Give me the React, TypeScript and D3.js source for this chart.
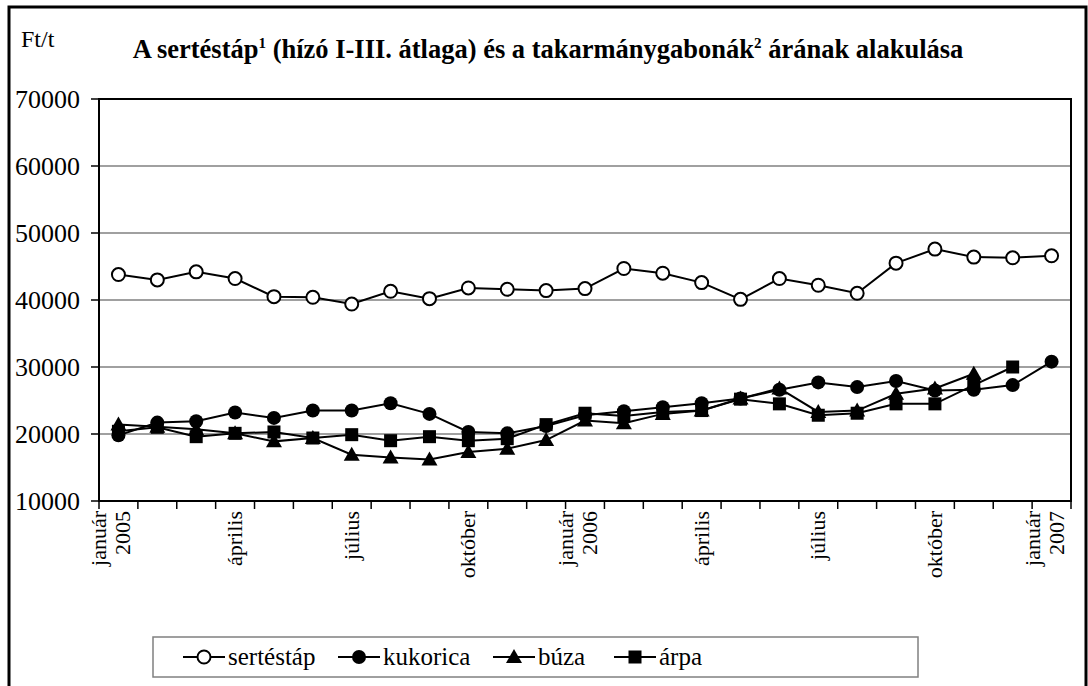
import React from "react";
import * as d3 from "d3";

const categories = [
  "2005-01","2005-02","2005-03","2005-04","2005-05","2005-06","2005-07","2005-08","2005-09","2005-10","2005-11","2005-12",
  "2006-01","2006-02","2006-03","2006-04","2006-05","2006-06","2006-07","2006-08","2006-09","2006-10","2006-11","2006-12",
  "2007-01",
];

const sertestap = [43800,43000,44200,43200,40500,40400,39400,41300,40200,41800,41600,41400,41700,44700,44000,42600,40100,43200,42200,41000,45500,47600,46400,46300,46600];
const kukorica = [19800,21700,21900,23200,22400,23500,23500,24600,23000,20300,20100,21200,22800,23400,24000,24600,25300,26600,27700,27000,27900,26500,26600,27300,30800];
const buza = [21400,21100,20700,20100,18900,19400,16900,16500,16200,17300,17800,19100,22000,21600,23000,23500,25300,26800,23300,23500,26000,26800,29000,null,null];
const arpa = [20400,21000,19600,20100,20300,19400,19900,19000,19600,19000,19300,21400,23100,22700,23300,23500,25200,24500,22800,23100,24500,24500,27300,30000,null];

const yTicks = [10000,20000,30000,40000,50000,60000,70000];
const labelIndex = [0,3,6,9,12,15,18,21,24];
const labelLines = [["január","2005"],["április"],["július"],["október"],["január","2006"],["április"],["július"],["október"],["január","2007"]];

const seriesNames = ["sertéstáp","kukorica","búza","árpa"];
const seriesData = [sertestap, kukorica, buza, arpa];
const seriesMarker = ["openCircle","circle","triangle","square"];

const FONT = "'Liberation Serif', 'DejaVu Serif', 'Times New Roman', serif";

function Marker({ type, x, y }: { type: string; x: number; y: number }) {
  if (type === "openCircle") return <circle cx={x} cy={y} r={6.5} fill="#fff" stroke="#000" strokeWidth={2} />;
  if (type === "circle") return <circle cx={x} cy={y} r={7} fill="#000" />;
  if (type === "triangle") {
    const s = 8;
    return <path d={`M${x},${y - s}L${x + s},${y + s * 0.75}L${x - s},${y + s * 0.75}Z`} fill="#000" />;
  }
  return <rect x={x - 6.5} y={y - 6.5} width={13} height={13} fill="#000" />;
}

export default function App() {
  const W = 1088, H = 686;
  const left = 99, right = 1071, top = 99, bottom = 501;
  const x = d3.scaleBand<string>().domain(categories).range([left, right]).padding(0);
  const y = d3.scaleLinear().domain([10000, 70000]).range([bottom, top]);
  const cx = (i: number) => (x(categories[i]) as number) + x.bandwidth() / 2;

  const line = d3.line<number | null>()
    .defined((d) => d !== null)
    .x((_, i) => cx(i))
    .y((d) => y(d as number));

  const boundaries = d3.range(categories.length + 1).map((i) => left + i * x.bandwidth());

  const legendItems = [
    { x0: 183, tx: 228 },
    { x0: 338, tx: 383 },
    { x0: 493, tx: 538 },
    { x0: 614, tx: 659 },
  ];

  return (
    <svg width={W} height={H} style={{ position: "absolute", left: 0, top: 0, background: "#fff", fontFamily: FONT }}>
      <rect x={0} y={0} width={W} height={H} fill="#fff" />
      <rect x={9} y={7} width={1077} height={700} fill="none" stroke="#000" strokeWidth={3} />
      {yTicks.map((t) => (
        <line key={t} x1={left} x2={right} y1={y(t)} y2={y(t)} stroke="#808080" strokeWidth={1.5} />
      ))}
      <rect x={left} y={top} width={right - left} height={bottom - top} fill="none" stroke="#000" strokeWidth={2} />
      {yTicks.map((t) => (
        <g key={"yt" + t}>
          <line x1={left - 8} x2={left} y1={y(t)} y2={y(t)} stroke="#000" strokeWidth={1.5} />
          <text x={80} y={y(t)} dy="0.35em" textAnchor="end" fontSize={26}>{t}</text>
        </g>
      ))}
      {boundaries.map((b, i) => (
        <line key={"xt" + i} x1={b} x2={b} y1={bottom} y2={bottom + 8} stroke="#000" strokeWidth={1.5} />
      ))}
      {labelIndex.map((idx, k) => {
        const lines = labelLines[k];
        const c = cx(idx);
        return lines.map((s, j) => {
          const bx = lines.length === 1 ? c + 7 : c - 12 + j * 24;
          return (
            <text key={"xl" + k + "-" + j} transform={`translate(${bx},${bottom + 10}) rotate(-90)`} textAnchor="end" fontSize={22}>
              {s}
            </text>
          );
        });
      })}
      {seriesData.map((data, si) => (
        <g key={"s" + si}>
          <path d={line(data) || ""} fill="none" stroke="#000" strokeWidth={2} />
          {data.map((d, i) => d === null ? null : <Marker key={i} type={seriesMarker[si]} x={cx(i)} y={y(d)} />)}
        </g>
      ))}
      <text x={21} y={47} fontSize={24}>Ft/t</text>
      <text x={548} y={58} textAnchor="middle" fontSize={26.5} fontWeight="bold">
        A sertéstáp<tspan dy={-10} fontSize={15}>1</tspan><tspan dy={10}> (hízó I-III. átlaga) és a takarmánygabonák</tspan><tspan dy={-10} fontSize={15}>2</tspan><tspan dy={10}> árának alakulása</tspan>
      </text>
      <rect x={153} y={637} width={765} height={40} fill="#fff" stroke="#808080" strokeWidth={1.5} />
      {legendItems.map((it, i) => (
        <g key={"lg" + i}>
          <line x1={it.x0} x2={it.x0 + 42} y1={657} y2={657} stroke="#000" strokeWidth={2} />
          <Marker type={seriesMarker[i]} x={it.x0 + 21} y={657} />
          <text x={it.tx} y={665} fontSize={25}>{seriesNames[i]}</text>
        </g>
      ))}
    </svg>
  );
}
